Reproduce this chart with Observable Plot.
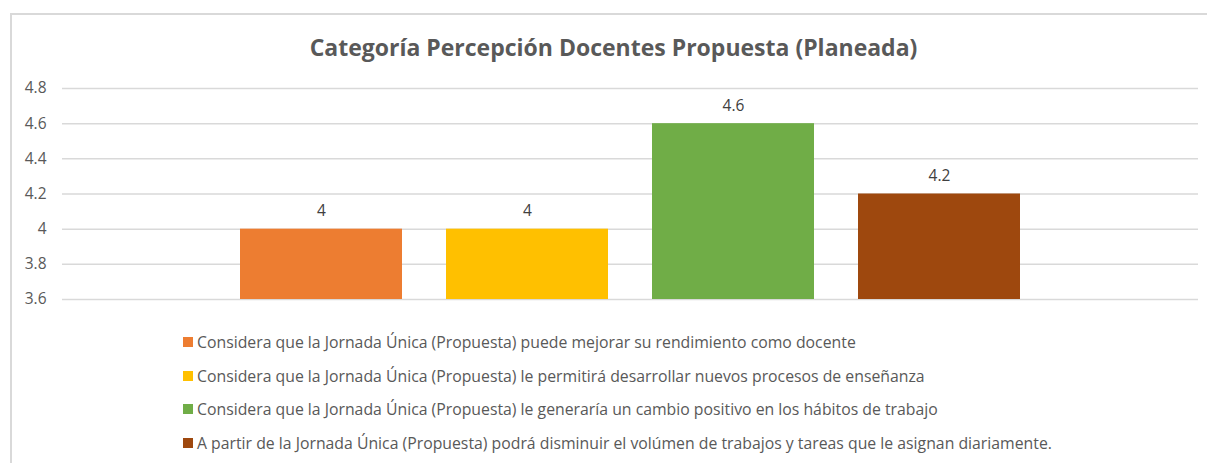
<!DOCTYPE html>
<html>
<head>
<meta charset="utf-8">
<script src="https://cdn.jsdelivr.net/npm/d3@7"></script>
<script src="https://cdn.jsdelivr.net/npm/@observablehq/plot@0.6"></script>
<style>
  html, body { margin: 0; padding: 0; background: #fff; width: 1207px; height: 463px; overflow: hidden; }
  #frame { position: absolute; left: 10px; top: 13px; width: 1210px; height: 470px; border: 2px solid #d9d9d9; box-sizing: border-box; }
  #title { position: absolute; left: 0; width: 1227px; top: 31px; text-align: center; font-family: "Open Sans", sans-serif; font-weight: 700; font-size: 23px; color: #595959; }
  #chart { position: absolute; left: 0; top: 70px; }
  .leg { position: absolute; left: 183px; height: 20px; display: flex; align-items: center; font-family: "Open Sans", sans-serif; font-size: 15.8px; color: #595959; white-space: nowrap; }
  .sw { width: 10px; height: 10px; margin-right: 4px; flex: none; }
</style>
</head>
<body>
<div id="frame"></div>
<div id="title">Categoría Percepción Docentes Propuesta (Planeada)</div>
<div id="chart"></div>
<div id="legend"></div>
<script>
const series = [
  "Considera que la Jornada Única (Propuesta) puede mejorar su rendimiento como docente",
  "Considera que la Jornada Única (Propuesta) le permitirá desarrollar nuevos procesos de enseñanza",
  "Considera que la Jornada Única (Propuesta) le generaría un cambio positivo en los hábitos de trabajo",
  "A partir de la Jornada Única (Propuesta) podrá disminuir el volúmen de trabajos y tareas que le asignan diariamente."
];
const values = [4, 4, 4.6, 4.2];
const colors = ["#ED7D31", "#FFC000", "#70AD47", "#9E480E"];
const yTicks = [3.6, 3.8, 4.0, 4.2, 4.4, 4.6, 4.8];

const data = series.map((s, i) => ({series: s, value: values[i]}));

const chart = Plot.plot({
  width: 1207,
  height: 240,
  marginTop: 18,
  marginBottom: 11,
  marginLeft: 62,
  marginRight: 9,
  style: {fontFamily: "'Open Sans', sans-serif", fontSize: "15.5px", color: "#595959", background: "transparent"},
  x: {domain: series, paddingInner: 0.2136, paddingOuter: 0.86, axis: null},
  y: {domain: [3.6, 4.8], ticks: yTicks, tickSize: 0, tickPadding: 16, tickFormat: d => String(+d.toFixed(1)), label: null},
  color: {domain: series, range: colors},
  marks: [
    Plot.ruleY(yTicks, {stroke: "#d9d9d9", strokeWidth: 1.5}),
    Plot.barY(data, {x: "series", y1: 3.6, y2: "value", fill: "series"}),
    Plot.text(data, {x: "series", y: "value", text: d => String(d.value), dy: -18, fill: "#404040", fontSize: 15.5})
  ]
});
document.getElementById("chart").appendChild(chart);

const rowY = [332, 366, 399, 433];
const leg = document.getElementById("legend");
series.forEach((s, i) => {
  const row = document.createElement("div");
  row.className = "leg";
  row.style.top = rowY[i] + "px";
  const sw = document.createElement("span");
  sw.className = "sw";
  sw.style.background = colors[i];
  const t = document.createElement("span");
  t.textContent = s;
  row.appendChild(sw);
  row.appendChild(t);
  leg.appendChild(row);
});
</script>
</body>
</html>
